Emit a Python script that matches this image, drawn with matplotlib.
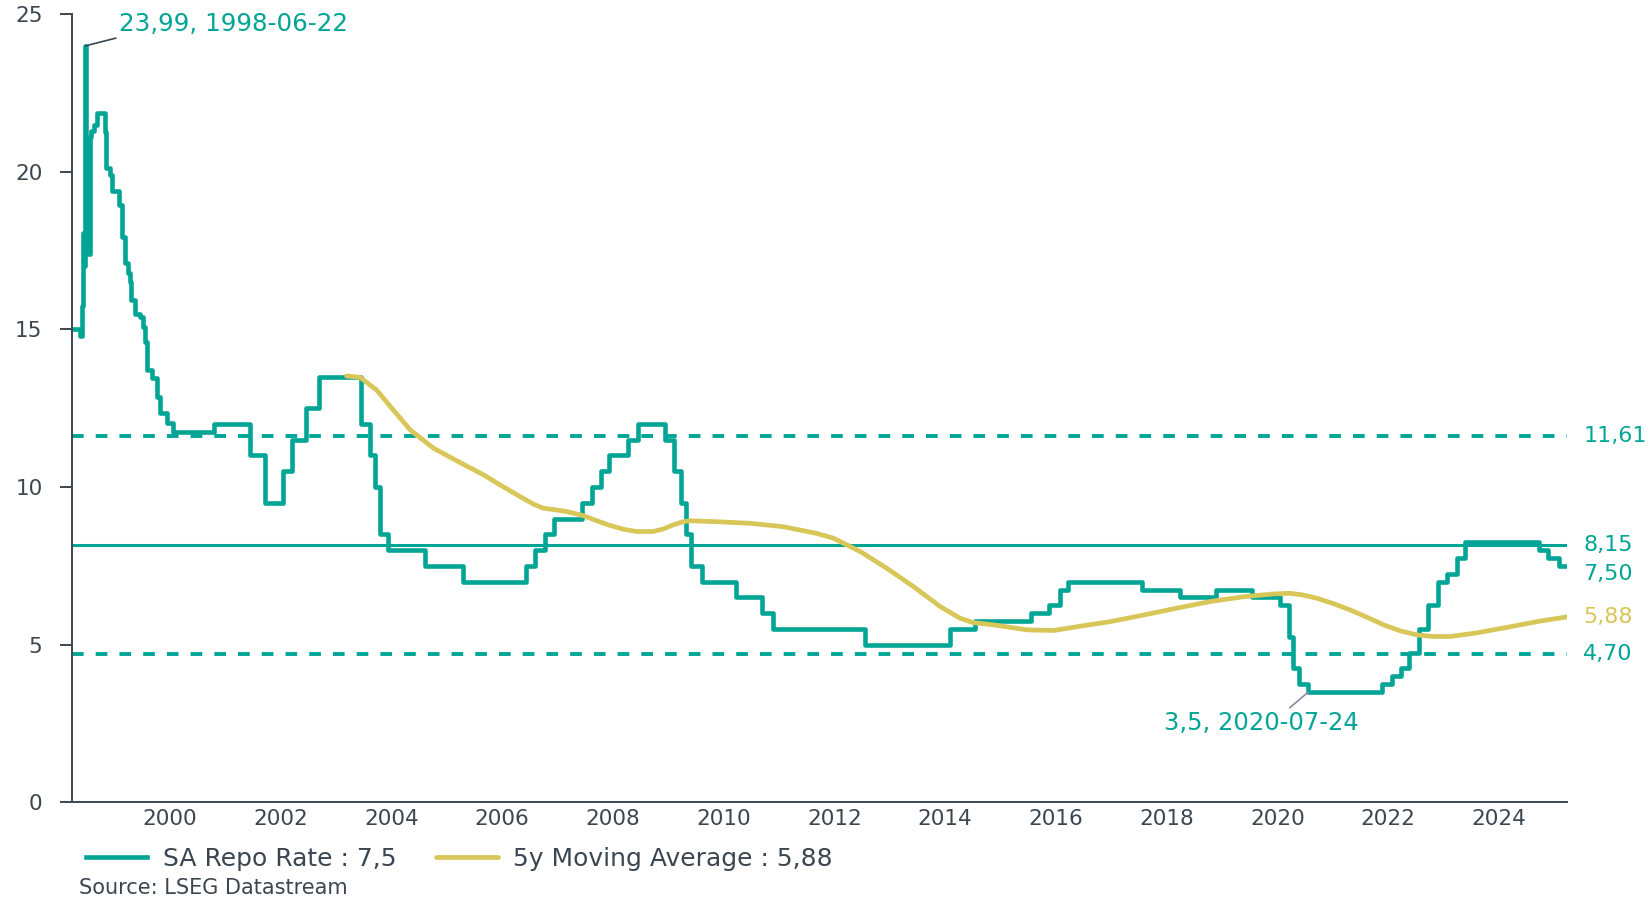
import matplotlib
matplotlib.use("Agg")
import matplotlib.pyplot as plt
import pandas as pd

plt.rcParams["font.family"] = ["DejaVu Sans"]

TEAL = "#00A595"
GOLD = "#D9C658"
AXIS = "#3C4650"

# SA repo rate, step changes (date, rate)
repo_dates = [
    "1998-03-24", "1998-05-15", "1998-05-28", "1998-06-05", "1998-06-14",
    "1998-06-22", "1998-06-26", "1998-07-20", "1998-08-01", "1998-08-20",
    "1998-09-05", "1998-10-29", "1998-11-08", "1998-12-01", "1998-12-12",
    "1999-02-01", "1999-02-16", "1999-03-09", "1999-03-31", "1999-04-11",
    "1999-04-22", "1999-05-14", "1999-06-16", "1999-07-08", "1999-07-19",
    "1999-08-03", "1999-09-02", "1999-10-05", "1999-10-27", "1999-12-10",
    "2000-01-22", "2000-10-16", "2001-06-14", "2001-09-20", "2002-01-16",
    "2002-03-15", "2002-06-14", "2002-09-13", "2003-06-13", "2003-08-15",
    "2003-09-12", "2003-10-17", "2003-12-12", "2004-08-13", "2005-04-15",
    "2006-06-08", "2006-08-03", "2006-10-13", "2006-12-08", "2007-06-08",
    "2007-08-17", "2007-10-12", "2007-12-07", "2008-04-11", "2008-06-13",
    "2008-12-12", "2009-02-06", "2009-03-25", "2009-05-01", "2009-05-29",
    "2009-08-14", "2010-03-26", "2010-09-10", "2010-11-19", "2012-07-20",
    "2014-01-30", "2014-07-18", "2015-07-24", "2015-11-20", "2016-01-29",
    "2016-03-18", "2017-07-21", "2018-03-29", "2018-11-23", "2019-07-19",
    "2020-01-17", "2020-03-20", "2020-04-15", "2020-05-22", "2020-07-24",
    "2021-11-19", "2022-01-28", "2022-03-25", "2022-05-20", "2022-07-22",
    "2022-09-23", "2022-11-25", "2023-01-27", "2023-03-31", "2023-05-26",
    "2024-09-20", "2024-11-22", "2025-01-31", "2025-03-25",
]
repo_rates = [
    15.00, 14.80, 15.75, 18.05, 17.00,
    23.99, 17.40, 21.10, 21.30, 21.47,
    21.87, 21.27, 20.12, 19.90, 19.40,
    18.95, 17.93, 17.10, 16.78, 16.51,
    15.93, 15.50, 15.40, 15.08, 14.60,
    13.71, 13.45, 12.87, 12.34, 12.02,
    11.75, 12.00, 11.00, 9.50, 10.50,
    11.50, 12.50, 13.50, 12.00, 11.00,
    10.00, 8.50, 8.00, 7.50, 7.00,
    7.50, 8.00, 8.50, 9.00, 9.50,
    10.00, 10.50, 11.00, 11.50, 12.00,
    11.50, 10.50, 9.50, 8.50, 7.50,
    7.00, 6.50, 6.00, 5.50, 5.00,
    5.50, 5.75, 6.00, 6.25, 6.75,
    7.00, 6.75, 6.50, 6.75, 6.50,
    6.25, 5.25, 4.25, 3.75, 3.50,
    3.75, 4.00, 4.25, 4.75, 5.50,
    6.25, 7.00, 7.25, 7.75, 8.25,
    8.00, 7.75, 7.50, 7.50,
]

# 5y moving average (decimal year, value)
ma_years = [
    2003.19, 2003.43, 2003.73, 2004.03, 2004.34, 2004.76, 2005.30, 2005.65,
    2005.96, 2006.32, 2006.56, 2006.74, 2006.99, 2007.17, 2007.47, 2007.71,
    2007.95, 2008.19, 2008.43, 2008.73, 2008.91, 2009.09, 2009.27, 2009.39,
    2009.88, 2010.48, 2011.08, 2011.68, 2011.98, 2012.47, 2012.95, 2013.43,
    2013.91, 2014.27, 2014.51, 2014.87, 2015.48, 2015.96, 2016.38, 2016.98,
    2017.58, 2018.19, 2018.79, 2019.39, 2019.93, 2020.23, 2020.45, 2020.72,
    2021.00, 2021.32, 2021.62, 2021.92, 2022.22, 2022.52, 2022.82, 2023.12,
    2023.55, 2024.15, 2024.75, 2025.23,
]
ma_values = [
    13.52, 13.48, 13.08, 12.45, 11.81, 11.23, 10.72, 10.40,
    10.07, 9.70, 9.46, 9.33, 9.27, 9.22, 9.09, 8.93,
    8.78, 8.66, 8.59, 8.59, 8.67, 8.80, 8.90, 8.93,
    8.90, 8.85, 8.74, 8.53, 8.38, 7.95, 7.42, 6.84,
    6.21, 5.84, 5.70, 5.63, 5.47, 5.45, 5.57, 5.73,
    5.94, 6.16, 6.37, 6.52, 6.61, 6.63, 6.58, 6.47,
    6.31, 6.10, 5.87, 5.63, 5.44, 5.31, 5.26, 5.26,
    5.36, 5.55, 5.75, 5.88,
]

mean_level = 8.15
upper_band = 11.61
lower_band = 4.70

year_ticks = list(range(2000, 2025, 2))


def dec_year(dates):
    d = pd.to_datetime(pd.Series(dates))
    days = d.dt.is_leap_year.map({True: 366.0, False: 365.0})
    return (d.dt.year + (d.dt.dayofyear - 1) / days).to_numpy()


def comma(v):
    return f"{v:.2f}".replace(".", ",")


x_repo = dec_year(repo_dates)

fig = plt.figure(figsize=(16.52, 8.99), dpi=100)
ax = fig.add_axes([0.0434, 0.1075, 0.9050, 0.8769])

x0, x1 = x_repo[0], x_repo[-1]
ax.plot([x0, x1], [upper_band, upper_band], color=TEAL, lw=2.8, dashes=(3, 3.1))
ax.plot([x0, x1], [lower_band, lower_band], color=TEAL, lw=2.8, dashes=(3, 3.1))
ax.plot([x0, x1], [mean_level, mean_level], color=TEAL, lw=2.2)

ax.step(x_repo, repo_rates, where="post", color=TEAL, lw=3.3, label="SA Repo Rate : 7,5")
ax.plot(ma_years, ma_values, color=GOLD, lw=3.4, solid_capstyle="round", solid_joinstyle="round",
        label="5y Moving Average : 5,88")

ax.set_xlim(x0, x1)
ax.set_ylim(0, 25)
ax.set_xticks(year_ticks)
ax.set_xticklabels([str(y) for y in year_ticks])
ax.set_yticks([0, 5, 10, 15, 20, 25])
ax.tick_params(axis="x", length=0, pad=5, labelsize=15.5, labelcolor=AXIS)
ax.tick_params(axis="y", length=9, width=1.4, color=AXIS, pad=12, labelsize=15.5, labelcolor=AXIS)
for s in ("top", "right"):
    ax.spines[s].set_visible(False)
for s in ("left", "bottom"):
    ax.spines[s].set_color(AXIS)
    ax.spines[s].set_linewidth(1.4)

# right side value labels
lab_x = x1 + 0.3
lab_kw = dict(fontsize=16, va="center", ha="left", clip_on=False)
ax.text(lab_x, upper_band, comma(upper_band), color=TEAL, **lab_kw)
ax.text(lab_x, mean_level, comma(mean_level), color=TEAL, **lab_kw)
ax.text(lab_x, repo_rates[-1] - 0.25, comma(repo_rates[-1]), color=TEAL, **lab_kw)
ax.text(lab_x, ma_values[-1], comma(ma_values[-1]), color=GOLD, **lab_kw)
ax.text(lab_x, lower_band, comma(lower_band), color=TEAL, **lab_kw)

# max / min annotations
i_max = max(range(len(repo_rates)), key=lambda i: repo_rates[i])
ax.annotate(
    f"{repo_rates[i_max]:g}".replace(".", ",") + ", " + repo_dates[i_max],
    xy=(x_repo[i_max], repo_rates[i_max]), xytext=(24, 16), textcoords="offset points",
    ha="left", va="center", fontsize=17.7, color=TEAL,
    arrowprops=dict(arrowstyle="-", color=AXIS, lw=1.2, relpos=(0.03, 0.0), shrinkA=0, shrinkB=0),
)
i_min = min(range(len(repo_rates)), key=lambda i: repo_rates[i])
ax.annotate(
    f"{repo_rates[i_min]:g}".replace(".", ",") + ", " + repo_dates[i_min],
    xy=(x_repo[i_min], repo_rates[i_min]), xytext=(-34, -22), textcoords="offset points",
    ha="center", va="center", fontsize=17.5, color=TEAL,
    arrowprops=dict(arrowstyle="-", color="#8F86A8", lw=1.2, relpos=(0.63, 1.0), shrinkA=0, shrinkB=0),
)

fig.legend(
    loc="center left", bbox_to_anchor=(86 / 1652, 1 - 859 / 899), ncol=2, frameon=False,
    fontsize=18, borderpad=0, borderaxespad=0, handlelength=2.45, handletextpad=0.62,
    columnspacing=1.6, labelcolor=AXIS,
)
fig.text(79 / 1652, 1 - 888 / 899, "Source: LSEG Datastream", fontsize=15, color=AXIS, va="center")

fig.savefig("out.png", dpi=100, facecolor="white")
